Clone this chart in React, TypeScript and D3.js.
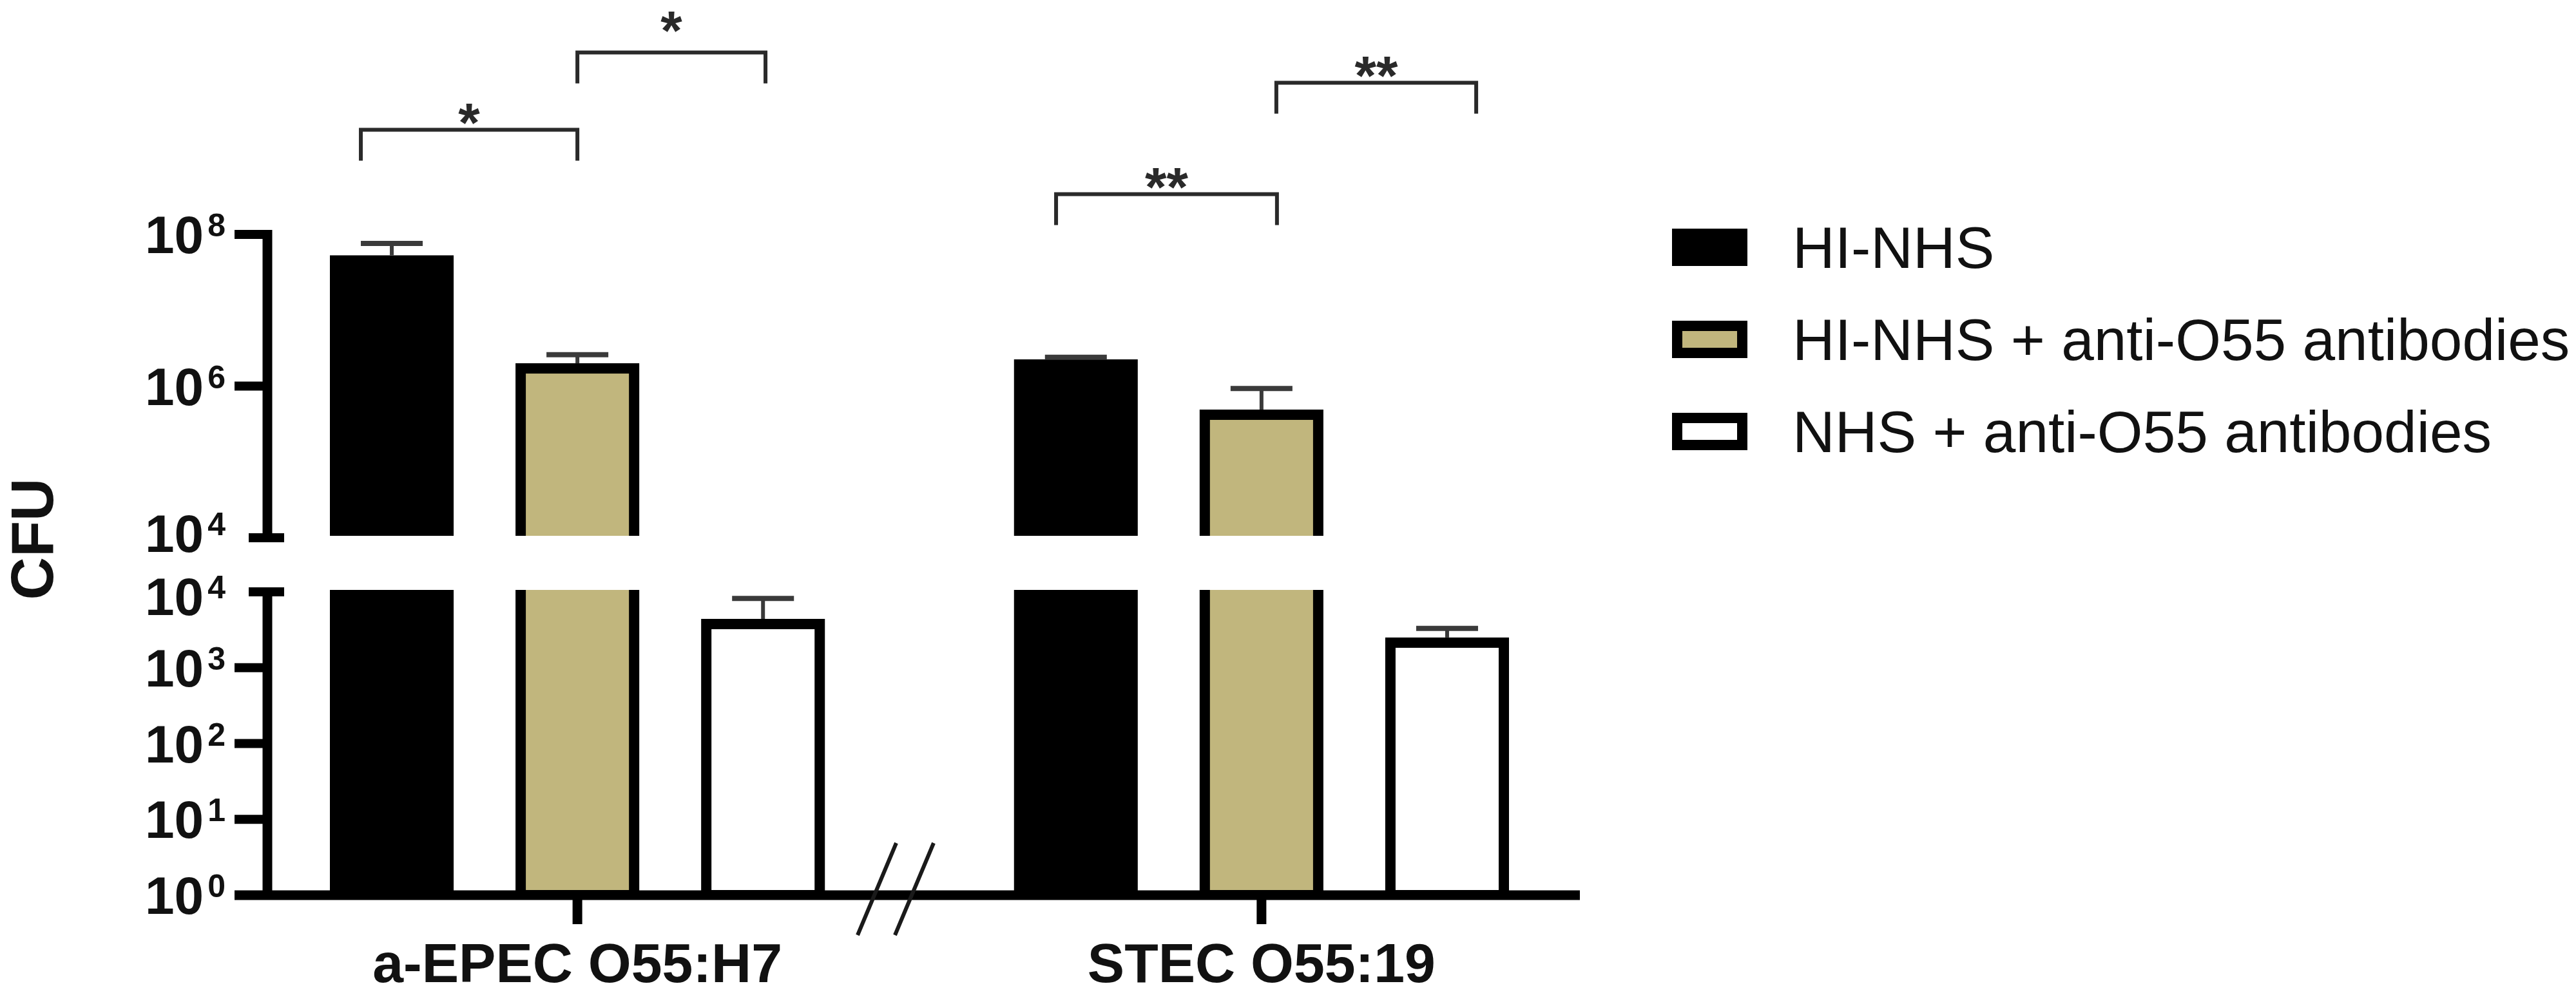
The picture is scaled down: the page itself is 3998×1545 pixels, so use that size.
import React from "react";
import * as d3 from "d3";

// ---------- data ----------
const categories = ["a-EPEC O55:H7", "STEC O55:19"];
const seriesNames = ["HI-NHS", "HI-NHS + anti-O55 antibodies", "NHS + anti-O55 antibodies"];
const seriesFill = ["#000000", "#C1B67D", "#FFFFFF"];
const meanHINHS = [5.3e7, 2.25e6];
const meanHINHSAb = [2.0e6, 4.9e5];
const meanNHSAb = [4.4e3, 2.5e3];
const errTopHINHS = [7.6e7, 2.4e6];
const errTopHINHSAb = [2.6e6, 9.3e5];
const errTopNHSAb = [8.2e3, 3.3e3];
const upperTicks = [1e4, 1e6, 1e8];
const upperTickExp = [4, 6, 8];
const lowerTicks = [1, 10, 100, 1000, 1e4];
const lowerTickExp = [0, 1, 2, 3, 4];
const yLabel = "CFU";
// significance brackets: category, bar indices, offset (fraction of bar width), level (log10 in upper scale)
const bracketCat = [0, 0, 1, 1];
const bracketFrom = [0, 1, 0, 1];
const bracketFromOff = [-0.25, 0, -0.16, 0.12];
const bracketTo = [1, 2, 1, 2];
const bracketToOff = [0, 0.02, 0.125, 0.235];
const bracketLevel = [9.38, 10.4, 8.53, 10.0];
const bracketLabel = ["*", "*", "**", "**"];
const bracketLabelLift = [0, 22, 0, 0];

const means = [meanHINHS, meanHINHSAb, meanNHSAb];
const errTops = [errTopHINHS, errTopHINHSAb, errTopNHSAb];

// ---------- layout ----------
const W = 3998;
const H = 1545;
const axisX = 415;
const tickLeft = 364;
const upperBottom = 835;
const upperTop = 364;
const lowerTop = 919;
const lowerBottom = 1390;
const xAxisEnd = 2452;
const FONT = "'Liberation Sans', Arial, Helvetica, sans-serif";

export default function App() {
  const yU = d3.scaleLog().domain([1e4, 1e8]).range([upperBottom, upperTop]);
  const yL = d3.scaleLog().domain([1, 1e4]).range([lowerBottom, lowerTop]);
  const x0 = d3.scaleBand<string>().domain(categories).range([464, 2390]).paddingInner(0.186);
  const xi = d3
    .scaleBand<number>()
    .domain([0, 1, 2])
    .range([0, x0.bandwidth()])
    .paddingInner(1 / 3)
    .paddingOuter(1 / 6);
  const bw = xi.bandwidth();
  const sw = 16; // border width of outlined bars

  const bars: any[] = [];
  categories.forEach((c, ci) => {
    seriesNames.forEach((s, si) => {
      const v = means[si][ci];
      const e = errTops[si][ci];
      const left = (x0(c) as number) + (xi(si) as number);
      bars.push({ c, ci, si, v, e, left, cx: left + bw / 2 });
    });
  });

  const barRect = (b: any, top: number, bottom: number, key: string, clip: string) => {
    const outlined = b.si > 0;
    if (!outlined) {
      return (
        <rect key={key} x={b.left} y={top} width={bw} height={bottom - top} fill="#000" clipPath={clip} />
      );
    }
    return (
      <rect
        key={key}
        x={b.left + sw / 2}
        y={top + sw / 2}
        width={bw - sw}
        height={bottom - top - sw / 2}
        fill={seriesFill[b.si]}
        stroke="#000"
        strokeWidth={sw}
        clipPath={clip}
      />
    );
  };

  const errBar = (b: any, yScale: any, key: string) => {
    const yv = yScale(b.v);
    const ye = yScale(b.e);
    return (
      <g key={key} stroke="#3a3a3a" strokeWidth={6}>
        <line x1={b.cx} x2={b.cx} y1={yv} y2={ye} />
        <line x1={b.cx - bw * 0.25} x2={b.cx + bw * 0.25} y1={ye} y2={ye} strokeWidth={8} />
      </g>
    );
  };

  // labels at the axis break are nudged apart slightly so they do not collide
  const tickLabel = (y: number, exp: number, key: string, nudge: number) => (
    <text
      key={key}
      x={350}
      y={y + 29 + nudge}
      textAnchor="end"
      fontFamily={FONT}
      fontWeight="bold"
      fontSize={82}
      fill="#111"
    >
      <tspan>10</tspan>
      <tspan dx={6} dy={-26} fontSize={50}>
        {String(exp)}
      </tspan>
    </text>
  );

  // break slashes position
  const gapMid = ((x0(categories[0]) as number) + x0.bandwidth() + (x0(categories[1]) as number)) / 2;
  const slashCenters = [gapMid - 66, gapMid - 8];

  const legendX = 2595;
  const legendY0 = 384;
  const legendStep = 143;

  return (
    <svg
      width={W}
      height={H}
      viewBox={`0 0 ${W} ${H}`}
      style={{ position: "absolute", left: 0, top: 0, background: "#fff" }}
    >
      <defs>
        <clipPath id="clipU">
          <rect x={0} y={0} width={W} height={upperBottom - 3} />
        </clipPath>
        <clipPath id="clipL">
          <rect x={0} y={lowerTop - 3} width={W} height={lowerBottom - lowerTop + 3} />
        </clipPath>
      </defs>
      <rect x={0} y={0} width={W} height={H} fill="#fff" />

      {/* bars: upper panel */}
      {bars
        .filter((b) => b.v > 1e4)
        .map((b, i) => barRect(b, yU(b.v), upperBottom + 40, `bu${i}`, "url(#clipU)"))}
      {/* bars: lower panel */}
      {bars.map((b, i) =>
        barRect(b, b.v > 1e4 ? lowerTop - 40 : yL(b.v), lowerBottom, `bl${i}`, "url(#clipL)")
      )}
      {/* error bars */}
      {bars.map((b, i) => errBar(b, b.v > 1e4 ? yU : yL, `e${i}`))}

      {/* y axis upper */}
      <line x1={axisX} x2={axisX} y1={upperTop - 7} y2={upperBottom + 7} stroke="#000" strokeWidth={15} />
      {upperTicks
        .filter((t) => t > 1e4)
        .map((t, i) => (
          <line key={`ut${i}`} x1={tickLeft} x2={axisX} y1={yU(t)} y2={yU(t)} stroke="#000" strokeWidth={14} />
        ))}
      <line x1={axisX - 29} x2={axisX + 26} y1={yU(1e4)} y2={yU(1e4)} stroke="#000" strokeWidth={14} />
      {upperTicks.map((t, i) => tickLabel(yU(t), upperTickExp[i], `ul${i}`, t === 1e4 ? -7 : 0))}

      {/* y axis lower */}
      <line x1={axisX} x2={axisX} y1={lowerTop - 7} y2={lowerBottom} stroke="#000" strokeWidth={15} />
      {lowerTicks
        .filter((t) => t < 1e4 && t > 1)
        .map((t, i) => (
          <line key={`lt${i}`} x1={tickLeft} x2={axisX} y1={yL(t)} y2={yL(t)} stroke="#000" strokeWidth={14} />
        ))}
      <line x1={axisX - 29} x2={axisX + 26} y1={yL(1e4)} y2={yL(1e4)} stroke="#000" strokeWidth={14} />
      {lowerTicks.map((t, i) => tickLabel(yL(t), lowerTickExp[i], `ll${i}`, t === 1e4 ? 7 : 0))}

      {/* x axis */}
      <line x1={tickLeft} x2={xAxisEnd} y1={lowerBottom} y2={lowerBottom} stroke="#000" strokeWidth={15} />
      {categories.map((c, i) => {
        const cx = (x0(c) as number) + x0.bandwidth() / 2;
        return (
          <g key={`xc${i}`}>
            <line x1={cx} x2={cx} y1={lowerBottom} y2={lowerBottom + 45} stroke="#000" strokeWidth={15} />
            <text x={cx} y={1525} textAnchor="middle" fontFamily={FONT} fontWeight="bold" fontSize={86} fill="#111">
              {c}
            </text>
          </g>
        );
      })}
      {/* x axis break */}
      {slashCenters.map((sx, i) => (
        <line key={`sl${i}`} x1={sx + 30} x2={sx - 30} y1={1309} y2={1452} stroke="#1a1a1a" strokeWidth={6} />
      ))}

      {/* y label */}
      <text
        transform="translate(82,837) rotate(-90)"
        textAnchor="middle"
        fontFamily={FONT}
        fontWeight="bold"
        fontSize={92}
        fill="#111"
      >
        {yLabel}
      </text>

      {/* significance brackets */}
      {bracketLabel.map((lab, i) => {
        const cat = categories[bracketCat[i]];
        const xa = (x0(cat) as number) + (xi(bracketFrom[i]) as number) + bw / 2 + bracketFromOff[i] * bw;
        const xb = (x0(cat) as number) + (xi(bracketTo[i]) as number) + bw / 2 + bracketToOff[i] * bw;
        const yb = yU(Math.pow(10, bracketLevel[i]));
        return (
          <g key={`br${i}`}>
            <path
              d={`M${xa},${yb + 48} V${yb} H${xb} V${yb + 48}`}
              fill="none"
              stroke="#2a2a2a"
              strokeWidth={6}
            />
            <text
              x={(xa + xb) / 2}
              y={yb + 18 - bracketLabelLift[i]}
              textAnchor="middle"
              fontFamily={FONT}
              fontWeight="bold"
              fontSize={86}
              fill="#2a2a2a"
            >
              {lab}
            </text>
          </g>
        );
      })}

      {/* legend */}
      {seriesNames.map((s, i) => {
        const cy = legendY0 + i * legendStep;
        return (
          <g key={`lg${i}`}>
            {i === 0 ? (
              <rect x={legendX} y={cy - 29} width={117} height={58} fill="#000" />
            ) : (
              <rect
                x={legendX + 8}
                y={cy - 21}
                width={101}
                height={42}
                fill={seriesFill[i]}
                stroke="#000"
                strokeWidth={16}
              />
            )}
            <text x={2782} y={cy + 32} fontFamily={FONT} fontSize={91} fill="#111">
              {s}
            </text>
          </g>
        );
      })}
    </svg>
  );
}
